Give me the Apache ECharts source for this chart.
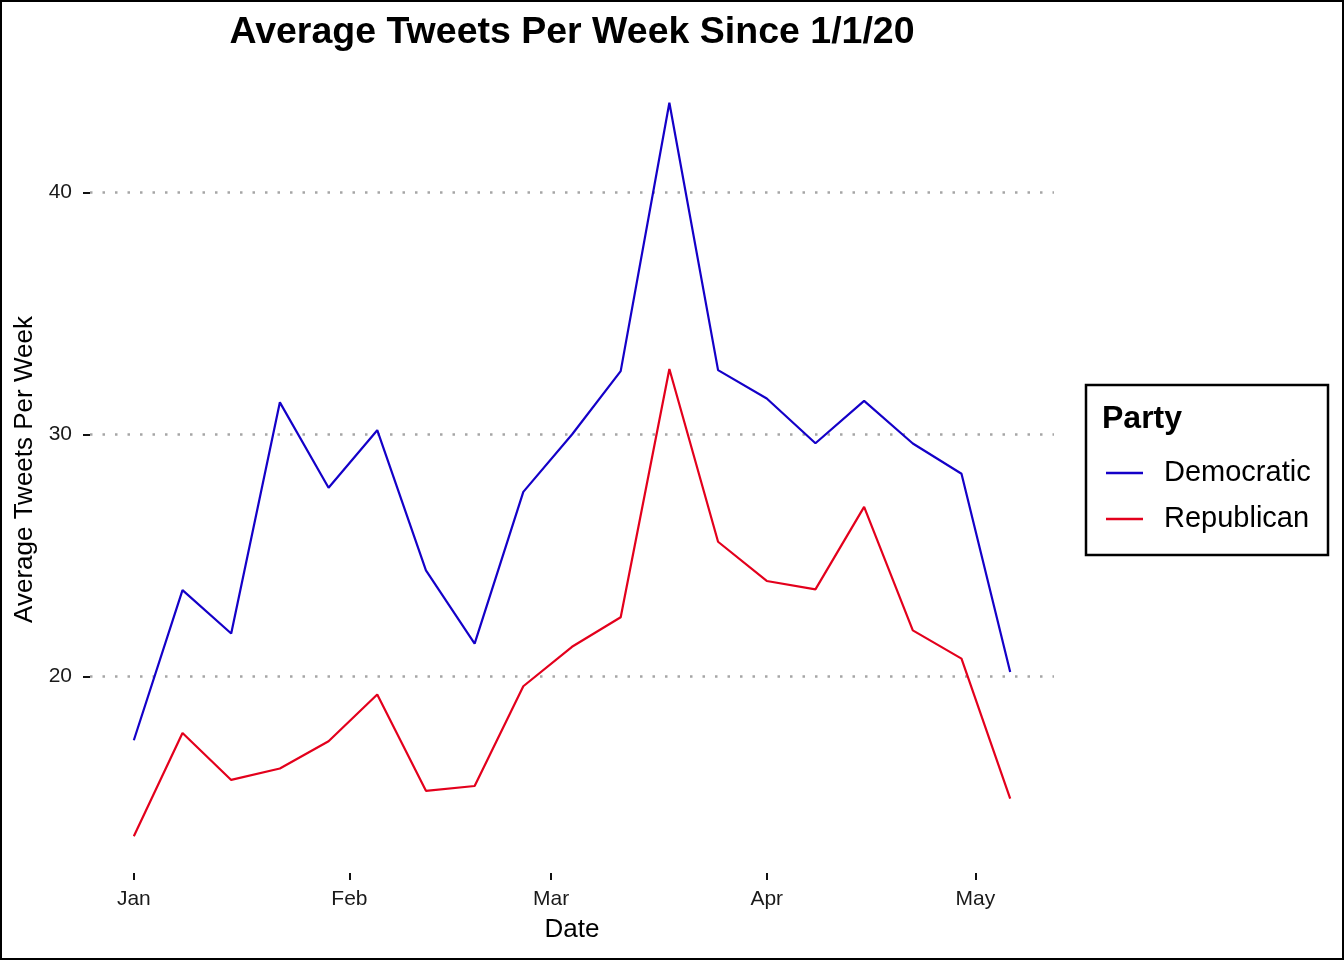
<!DOCTYPE html>
<html>
<head>
<meta charset="utf-8">
<script src="https://cdn.jsdelivr.net/npm/echarts@6/dist/echarts.min.js"></script>
<style>
html,body{margin:0;padding:0;background:#fff;}
#chart{width:1344px;height:960px;}
</style>
</head>
<body>
<div id="chart"></div>
<script>
// ---- data ----
const weeks = ["2020-01-01","2020-01-08","2020-01-15","2020-01-22","2020-01-29","2020-02-05","2020-02-12","2020-02-19","2020-02-26","2020-03-04","2020-03-11","2020-03-18","2020-03-25","2020-04-01","2020-04-08","2020-04-15","2020-04-22","2020-04-29","2020-05-06"];
const democratic = [17.37,23.57,21.78,31.33,27.80,30.18,24.39,21.36,27.63,30.00,32.62,43.71,32.66,31.49,29.64,31.39,29.63,28.38,20.19];
const republican = [13.40,17.67,15.73,16.20,17.33,19.26,15.28,15.48,19.60,21.23,22.45,32.71,25.57,23.95,23.60,27.01,21.91,20.74,14.96];
const monthTicks = ["2020-01-01","2020-02-01","2020-03-01","2020-04-01","2020-05-01"];
const monthLabels = ["Jan","Feb","Mar","Apr","May"];
const yTicks = [20,30,40];
const seriesNames = ["Democratic","Republican"];
const seriesColors = ["#1400C8","#E3001C"];

const FONT = "Liberation Sans, Arial, Helvetica, sans-serif";
const DAY = 86400000;
// days since 2020-01-01
const dayNum = s => (Date.parse(s + "T00:00:00Z") - Date.parse("2020-01-01T00:00:00Z")) / DAY;
const xs = weeks.map(dayNum);
const xSpan = xs[xs.length-1] - xs[0];
const xMin = xs[0] - 0.05*xSpan, xMax = xs[xs.length-1] + 0.05*xSpan;
const allV = democratic.concat(republican);
const vMin = Math.min(...allV), vMax = Math.max(...allV);
const ySpan = vMax - vMin;
const yMin = vMin - 0.05*ySpan, yMax = vMax + 0.05*ySpan;
const monthDays = monthTicks.map(dayNum);
const labelMap = {};
monthDays.forEach((t,i)=>{labelMap[t]=monthLabels[i];});

const chart = echarts.init(document.getElementById('chart'), null, {renderer:'canvas'});
const option = {
  animation: false,
  backgroundColor: '#ffffff',
  textStyle: {fontFamily: FONT},
  grid: {left: 90, right: 290, top: 66, bottom: 87, containLabel: false},
  xAxis: {
    type: 'value',
    min: xMin, max: xMax,
    name: 'Date',
    nameLocation: 'middle',
    nameGap: 44,
    nameTextStyle: {fontFamily: FONT, fontSize: 26, color: '#000'},
    axisLine: {show: false, onZero: false},
    axisTick: {show: true, customValues: monthDays, length: 7, lineStyle: {color: '#111', width: 2}},
    axisLabel: {customValues: monthDays, fontFamily: FONT, fontSize: 21, color: '#1a1a1a', margin: 16,
      formatter: v => labelMap[v] || ''},
    splitLine: {show: false}
  },
  yAxis: {
    type: 'value',
    min: yMin, max: yMax,
    name: 'Average Tweets Per Week',
    nameLocation: 'middle',
    nameGap: 48,
    nameTextStyle: {fontFamily: FONT, fontSize: 26, color: '#000'},
    axisLine: {show: false, onZero: false},
    axisTick: {show: true, customValues: yTicks, length: 7, lineStyle: {color: '#111', width: 2}},
    axisLabel: {customValues: yTicks, fontFamily: FONT, fontSize: 21, color: '#1a1a1a', margin: 18},
    splitLine: {show: true, lineStyle: {color: '#a6a6a6', width: 2.5, type: [2.5, 10]}}
  },
  legend: {
    orient: 'vertical',
    left: 1106, top: 458,
    padding: 0,
    icon: 'rect',
    itemWidth: 37, itemHeight: 2.5,
    itemGap: 16,
    data: seriesNames,
    textStyle: {fontFamily: FONT, fontSize: 29, color: '#000', lineHeight: 30, padding: [0,0,0,16]}
  },
  graphic: [
    {type: 'rect', silent: true, shape: {x: 1, y: 1, width: 1342, height: 958}, style: {fill: 'none', stroke: '#000', lineWidth: 2}},
    {type: 'rect', silent: true, shape: {x: 1086, y: 385, width: 242, height: 170}, style: {fill: 'none', stroke: '#000', lineWidth: 2.5}},
    {type: 'text', silent: true, x: 1102, y: 419, style: {text: 'Party', font: 'bold 32px ' + FONT, fill: '#000', textAlign: 'left', textVerticalAlign: 'middle'}},
    {type: 'text', silent: true, x: 572, y: 33, style: {text: 'Average Tweets Per Week Since 1/1/20', font: 'bold 37.5px ' + FONT, fill: '#000', textAlign: 'center', textVerticalAlign: 'middle'}}
  ],
  series: seriesNames.map((n, i) => ({
    name: n,
    type: 'line',
    data: xs.map((t, j) => [t, (i === 0 ? democratic : republican)[j]]),
    showSymbol: false,
    symbol: 'none',
    color: seriesColors[i],
    lineStyle: {color: seriesColors[i], width: 2.2}
  }))
};
chart.setOption(option);
</script>
</body>
</html>
